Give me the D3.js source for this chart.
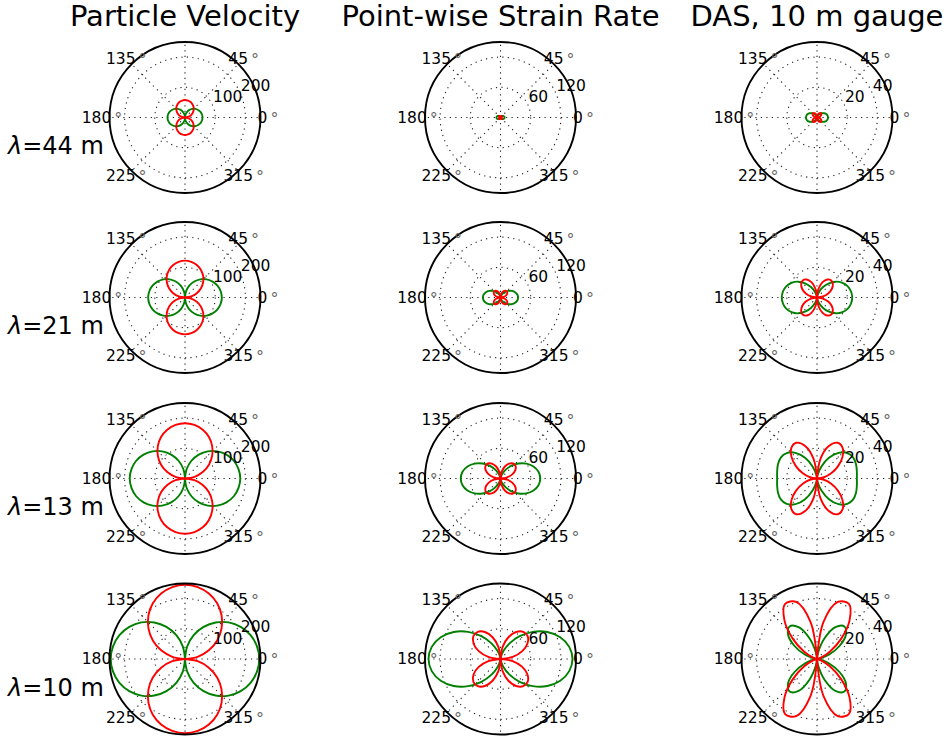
<!DOCTYPE html>
<html>
<head>
<meta charset="utf-8">
<script src="https://cdnjs.cloudflare.com/ajax/libs/d3/7.8.5/d3.min.js"></script>
<style>
  body { margin: 0; background: #fff; }
  text { font-family: "DejaVu Sans", sans-serif; fill: #000; }
</style>
</head>
<body>
<div id="chart"></div>
<script>

// ---- data ----
var columnTitles = ["Particle Velocity", "Point-wise Strain Rate", "DAS, 10 m gauge"];
var wavelengths = ["44", "21", "13", "10"];

var rMax = [250, 150, 50];
var rTicks = [[100, 200], [60, 120], [20, 40]];
var thetaTicks = [0, 45, 90, 135, 180, 225, 270, 315];
var thetaLabels = ["0", "45", "", "135", "180", "225", "", "315"];

// radius sampled every 10 deg over the first quadrant (0..90),
// the patterns are mirror symmetric about both axes
var angles = [0, 10, 20, 30, 40, 50, 60, 70, 80, 90];

// P wave (green) and S wave (red), one row per wavelength
var velP = [
  [58, 57, 54.5, 50, 44.5, 37, 29, 20, 10, 0],
  [122, 120, 114.5, 105.5, 93.5, 78.5, 61, 41.5, 21, 0],
  [183, 180, 172, 158.5, 140, 117.5, 91.5, 62.5, 32, 0],
  [246, 242, 231, 213, 188.5, 158, 123, 84, 42.5, 0]
];
var velS = [
  [0, 10, 20, 29, 37, 44.5, 50, 54.5, 57, 58],
  [0, 21, 41.5, 61, 78.5, 93.5, 105.5, 114.5, 120, 122],
  [0, 32, 62.5, 91.5, 117.5, 140, 158.5, 172, 180, 183],
  [0, 42.5, 84, 123, 158, 188.5, 213, 231, 242, 246]
];
var strainP = [
  [8, 7.8, 7.1, 6, 4.7, 3.3, 2, 0.9, 0.2, 0],
  [35, 33.9, 30.9, 26.3, 20.5, 14.5, 8.8, 4.1, 1.1, 0],
  [79, 76.6, 69.8, 59.3, 46.4, 32.6, 19.8, 9.2, 2.4, 0],
  [143, 138.7, 126.3, 107.3, 83.9, 59.1, 35.8, 16.7, 4.3, 0]
];
var strainS = [
  [0, 1.4, 2.6, 3.5, 3.9, 3.9, 3.5, 2.6, 1.4, 0],
  [0, 6, 11.2, 15.2, 17.2, 17.2, 15.2, 11.2, 6, 0],
  [0, 13.5, 25.4, 34.2, 38.9, 38.9, 34.2, 25.4, 13.5, 0],
  [0, 24.5, 46, 61.9, 70.4, 70.4, 61.9, 46, 24.5, 0]
];
var dasP = [
  [7.3, 7.1, 6.6, 5.6, 4.5, 3.2, 2, 0.9, 0.2, 0],
  [23.3, 22.9, 21.7, 19.5, 16.3, 12.3, 8, 3.9, 1, 0],
  [26.4, 26.8, 27.5, 27.7, 26.2, 22.2, 15.8, 8.3, 2.3, 0],
  [0, 2.3, 8.6, 17.2, 25, 28.2, 24.4, 14.6, 4.4, 0]
];
var dasS = [
  [0, 1.3, 2.4, 3.3, 3.8, 3.8, 3.4, 2.6, 1.4, 0],
  [0, 4, 7.9, 11.3, 13.7, 14.7, 13.8, 10.8, 5.9, 0],
  [0, 4.7, 10, 16, 22, 26.4, 27.3, 22.9, 13.2, 0],
  [0, 0.4, 3.1, 10, 21, 33.6, 42.2, 40.2, 24.9, 0]
];

var greenSeries = [velP, strainP, dasP];
var redSeries = [velS, strainS, dasS];

// ---- layout ----
var width = 944;
var height = 738;
var radius = 75.5;
var colX = [185, 500.5, 817];
var rowY = [117.5, 297.5, 478.5, 659];

var svg = d3.select("#chart")
    .append("svg")
        .attr("width", width)
        .attr("height", height)
        ;

// full 0..350 deg list from the quadrant, by symmetry
function fullTurn(q) {
  var pts = [];
  for (var a = 0; a < 360; a += 10) {
    var ref;
    if (a <= 90) ref = a;
    else if (a <= 180) ref = 180 - a;
    else if (a <= 270) ref = a - 180;
    else ref = 360 - a;
    pts.push({ theta: a * Math.PI / 180, r: q[angles.indexOf(ref)] });
  }
  return pts;
}

// split the closed pattern into lobes at the points where it passes the origin
function lobes(pts) {
  var first = -1;
  for (var i = 0; i < pts.length; i++) { if (pts[i].r === 0) { first = i; break; } }
  if (first < 0) return { closed: true, parts: [pts] };
  var seq = pts.slice(first).concat(pts.slice(0, first));
  seq.push({ theta: seq[0].theta + 2 * Math.PI, r: 0 });
  var parts = [];
  var cur = [seq[0]];
  for (var j = 1; j < seq.length; j++) {
    cur.push(seq[j]);
    if (seq[j].r === 0) {
      if (cur.length > 2) parts.push(cur);
      cur = [seq[j]];
    }
  }
  return { closed: false, parts: parts };
}

var deg = Math.PI / 180;

columnTitles.forEach(function (title, c) {
  svg.append("text")
      .attr("x", colX[c])
      .attr("y", 26)
      .attr("text-anchor", "middle")
      .attr("font-size", "29px")
      .text(title)
      ;
});

wavelengths.forEach(function (lam, r) {
  var t = svg.append("text")
      .attr("x", 8)
      .attr("y", rowY[r] + 36.5)
      .attr("font-size", "24px")
      ;
  t.append("tspan").attr("font-style", "italic").text("\u03bb");
  t.append("tspan").text("=" + lam + " m");
});

wavelengths.forEach(function (lam, row) {
  columnTitles.forEach(function (title, col) {

    var rScale = d3.scaleLinear()
        .domain([0, rMax[col]])
        .range([0, radius])
        ;

    var g = svg.append("g")
        .attr("transform", "translate(" + colX[col] + "," + rowY[row] + ")")
        ;

    // grid
    g.selectAll("circle.grid")
        .data(rTicks[col])
        .enter().append("circle")
        .attr("class", "grid")
        .attr("r", function (d) { return rScale(d); })
        .attr("fill", "none")
        .attr("stroke", "#222")
        .attr("stroke-width", 1.1)
        .attr("stroke-dasharray", "1.2,4.3")
        ;

    g.selectAll("line.spoke")
        .data(thetaTicks)
        .enter().append("line")
        .attr("class", "spoke")
        .attr("x1", 0)
        .attr("y1", 0)
        .attr("x2", function (d) { return rScale(rMax[col]) * Math.cos(d * deg); })
        .attr("y2", function (d) { return -rScale(rMax[col]) * Math.sin(d * deg); })
        .attr("stroke", "#222")
        .attr("stroke-width", 1.1)
        .attr("stroke-dasharray", "1.2,4.3")
        ;

    // curves
    var radial = d3.lineRadial()
        .angle(function (d) { return Math.PI / 2 - d.theta; })
        .radius(function (d) { return rScale(d.r); })
        ;

    [[greenSeries, "#008000"], [redSeries, "#ff0000"]].forEach(function (s) {
      var shape = lobes(fullTurn(s[0][col][row]));
      radial.curve(shape.closed ? d3.curveCatmullRomClosed.alpha(0.5) : d3.curveCatmullRom.alpha(0.5));
      shape.parts.forEach(function (p) {
        g.append("path")
            .attr("d", radial(p))
            .attr("fill", "none")
            .attr("stroke", s[1])
            .attr("stroke-width", 1.9)
            ;
      });
    });

    // outer spine
    g.append("circle")
        .attr("r", radius)
        .attr("fill", "none")
        .attr("stroke", "#000")
        .attr("stroke-width", 1.9)
        ;

    // radial tick labels along 22.5 deg
    g.selectAll("text.rlab")
        .data(rTicks[col])
        .enter().append("text")
        .attr("class", "rlab")
        .attr("x", function (d) { return rScale(d) * Math.cos(22.5 * deg); })
        .attr("y", function (d) { return -rScale(d) * Math.sin(22.5 * deg) - 3.5; })
        .attr("font-size", "15.5px")
        .text(function (d) { return d; })
        ;

    // angle labels
    thetaTicks.forEach(function (a, i) {
      if (thetaLabels[i] === "") return;
      var t = g.append("text")
          .attr("x", radius * 1.1 * Math.cos(a * deg))
          .attr("y", -radius * 1.1 * Math.sin(a * deg))
          .attr("text-anchor", "middle")
          .attr("dominant-baseline", "central")
          .attr("font-size", "15.5px")
          ;
      t.append("tspan").text(thetaLabels[i]);
      t.append("tspan").attr("dx", 3).attr("font-size", "16px").attr("fill", "#666").text("\u00b0");
    });
  });
});

</script>
</body>
</html>
